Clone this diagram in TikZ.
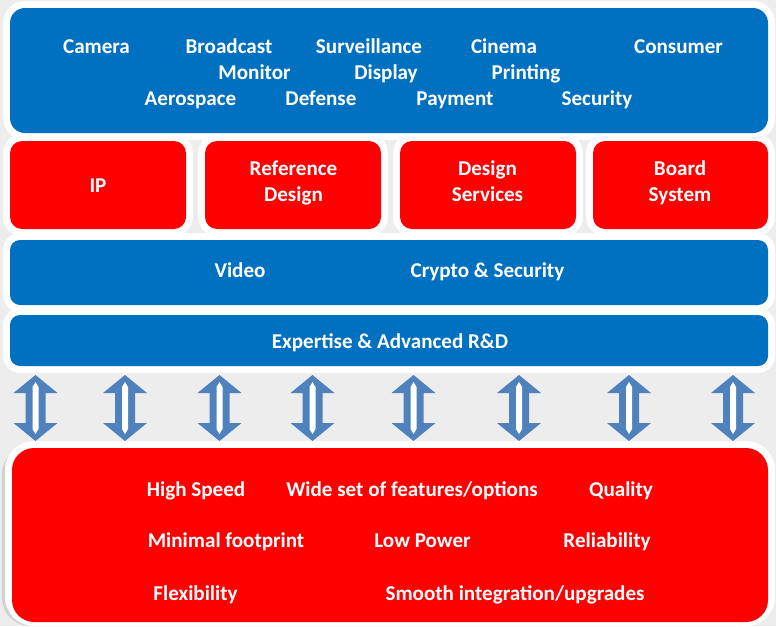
\documentclass[tikz,border=0pt]{standalone}
\usepackage{fontspec}
\setmainfont{Carlito}

\definecolor{bggray}{HTML}{EDEDED}
\definecolor{layerblue}{HTML}{0070C0}
\definecolor{layerred}{HTML}{FF0000}
\definecolor{arrowblue}{HTML}{4F81BD}

\tikzset{
  lbl/.style={text=white, anchor=base, inner sep=0pt,
    font=\fontsize{15pt}{18pt}\selectfont\bfseries},
  ring/.style={fill=white},
}

\begin{document}
\begin{tikzpicture}[x=0.025cm, y=-0.025cm]

\fill[bggray] (0,0) rectangle (776,626);

% Applications
\fill[ring, rounded corners=0.55cm] (3,1) rectangle (775,140);
\fill[layerblue, rounded corners=0.375cm] (10,8) rectangle (768,133);

\node[lbl] (camera) at (96.5,53) {Camera};
\node[lbl] (broadcast) at (229,53) {Broadcast};
\node[lbl] (surveil) at (369,53) {Surveillance};
\node[lbl] (cinema) at (504,53) {Cinema};
\node[lbl] (consumer) at (678.5,53) {Consumer};
\node[lbl] (monitor) at (254.5,79) {Monitor};
\node[lbl] (display) at (386,79) {Display};
\node[lbl] (printing) at (526,79) {Printing};
\node[lbl] (aero) at (190.5,105) {Aerospace};
\node[lbl] (defense) at (321,105) {Defense};
\node[lbl] (payment) at (455,105) {Payment};
\node[lbl] (security) at (597,105) {Security};

% Offre
\fill[ring, rounded corners=0.475cm] (3,134) rectangle (193,236);
\fill[ring, rounded corners=0.475cm] (198,134) rectangle (388,236);
\fill[ring, rounded corners=0.475cm] (393,134) rectangle (583,236);
\fill[ring, rounded corners=0.475cm] (586,134) rectangle (775,236);
\fill[layerred, rounded corners=0.3cm] (10,141) rectangle (186,229);
\fill[layerred, rounded corners=0.3cm] (205,141) rectangle (381,229);
\fill[layerred, rounded corners=0.3cm] (400,141) rectangle (576,229);
\fill[layerred, rounded corners=0.3cm] (593,141) rectangle (768,229);

\node[lbl] (ip) at (98,192) {IP};
\node[lbl] (ref1) at (293.5,175) {Reference};
\node[lbl] (ref2) at (293.5,201) {Design};
\node[lbl] (serv1) at (487.5,175) {Design};
\node[lbl] (serv2) at (487.5,201) {Services};
\node[lbl] (board1) at (680,175) {Board};
\node[lbl] (board2) at (680,201) {System};

% Domaines
\fill[ring, rounded corners=0.425cm] (3,233) rectangle (775,312);
\fill[layerblue, rounded corners=0.25cm] (10,240) rectangle (768,305);
\node[lbl] (video) at (240,277) {Video};
\node[lbl] (crypto) at (487.5,277) {Crypto \& Security};

\fill[ring, rounded corners=0.425cm] (3,308) rectangle (775,373);
\fill[layerblue, rounded corners=0.25cm] (10,315) rectangle (768,366);
\node[lbl] (expert) at (390,348) {Expertise \& Advanced R\&D};

% Fleches
\foreach \cx in {35.5,125,219.5,312.5,413.5,519,629,733} {
  \fill[arrowblue] (\cx,375) -- (\cx+22,393) -- (\cx+10,393) -- (\cx+10,423)
    -- (\cx+22,423) -- (\cx,441) -- (\cx-22,423) -- (\cx-10,423)
    -- (\cx-10,393) -- (\cx-22,393) -- cycle;
  \fill[white] (\cx,382) -- (\cx+3,387) -- (\cx+3,429) -- (\cx,434)
    -- (\cx-3,429) -- (\cx-3,387) -- cycle;
}

% Qualites
\fill[gray!35, rounded corners=0.7cm] (2,446) rectangle (770,626);
\fill[ring, rounded corners=0.725cm] (5,441) rectangle (775,626);
\fill[layerred, rounded corners=0.55cm] (12,448) rectangle (768,622);

\node[lbl] (speed) at (196,496) {High Speed};
\node[lbl] (features) at (412,496) {Wide set of features/options};
\node[lbl] (quality) at (621,496) {Quality};
\node[lbl] (footprint) at (226,547) {Minimal footprint};
\node[lbl] (power) at (422.5,547) {Low Power};
\node[lbl] (reliab) at (607,547) {Reliability};
\node[lbl] (flex) at (195.5,600) {Flexibility};
\node[lbl] (smooth) at (515,600) {Smooth integration/upgrades};

\end{tikzpicture}
\end{document}
